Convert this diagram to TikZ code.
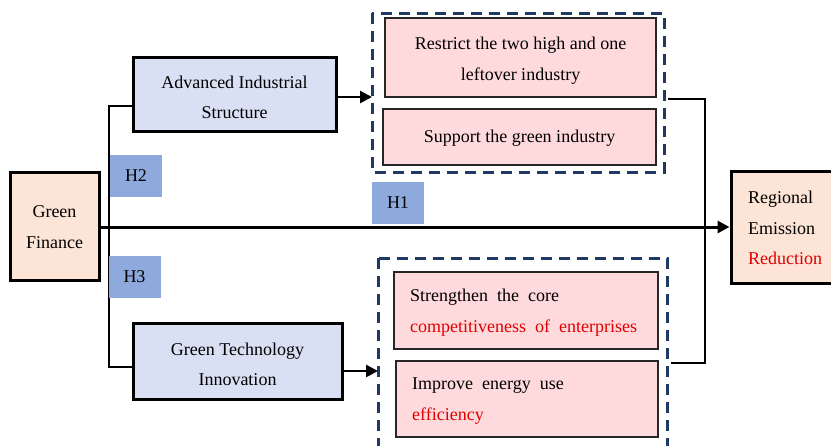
\documentclass[tikz,border=0pt]{standalone}
\usepackage{fontspec}
\setmainfont{Liberation Serif}
\usetikzlibrary{arrows.meta}
\definecolor{peach}{HTML}{FCE4D6}
\definecolor{lavender}{HTML}{DAE0F4}
\definecolor{pinkbox}{HTML}{FFDADD}
\definecolor{hblue}{HTML}{8EA9DB}
\definecolor{navy}{HTML}{203864}
\definecolor{hired}{HTML}{E00000}
\tikzset{
  mainbox/.style={draw=black, line width=3pt, inner sep=0pt, fill=#1},
  subbox/.style={draw=black!85, line width=1.5pt, fill=pinkbox, inner sep=0pt},
  groupbox/.style={draw=navy, line width=3pt, dash pattern=on 11pt off 7pt},
  hyp/.style={fill=hblue, inner sep=0pt, minimum width=52, minimum height=42, font=\fontsize{18}{20}\selectfont},
  link/.style={line width=1.6pt},
  arr/.style={line width=2.6pt, -{Triangle[length=12pt,width=12pt]}},
  txt/.style={font=\fontsize{18}{30.5}\selectfont, inner sep=0pt},
}
\begin{document}
\begin{tikzpicture}[x=1pt, y=-1pt]
\useasboundingbox (0,0) rectangle (831,445);
\clip (0,0) rectangle (831,445);

% dashed groups
\draw[groupbox] (372,13) rectangle (664,172);
\coordinate (gtopW) at (372,97);
\draw[groupbox] (378,258) rectangle (667,470);
\coordinate (gbotW) at (378,371);

% outer boxes
\node[mainbox=peach, minimum width=89, minimum height=108] (gf) at (54.5,226) {};
\node[txt, align=center] at ([yshift=-1]gf) {Green\\Finance};
\node[mainbox=lavender, minimum width=203, minimum height=74] (ais) at (234.5,94) {};
\node[txt, align=center] at ([yshift=-3.5]ais) {Advanced Industrial\\Structure};
\node[mainbox=lavender, minimum width=209, minimum height=76] (gti) at (237.5,361) {};
\node[txt, align=center] at ([yshift=-3.5]gti) {Green Technology\\Innovation};
\node[mainbox=peach, minimum width=112, minimum height=112] (rer) at (787,227) {};
\node[txt, align=left, anchor=west] at (748,228) {Regional\\Emission\\\textcolor{hired}{Reduction}};

% mechanism boxes
\node[subbox, minimum width=271, minimum height=79] (b1) at (520.5,57.5) {};
\node[txt, align=center] at ([yshift=-3]b1) {Restrict the two high and one\\leftover industry};
\node[subbox, minimum width=273, minimum height=56] (b2) at (519.5,137) {};
\node[txt] at ([yshift=-1.5]b2) {Support the green industry};
\node[subbox, minimum width=264, minimum height=77] (b3) at (526,310.5) {};
\node[txt, align=left, anchor=west] at (410,312.5) {Strengthen\ \ the\ \ core\\\textcolor{hired}{competitiveness\ \ of\ \ enterprises}};
\node[subbox, minimum width=262, minimum height=76] (b4) at (527,399) {};
\node[txt, align=left, anchor=west] at (412,401) {Improve\ \ energy\ \ use\\\textcolor{hired}{efficiency}};

% branching from green finance
\coordinate (jt) at (109,106);
\coordinate (jb) at (109,367);
\draw[link] (ais.west |- jt) -- (jt) -- (jb) -- (gti.west |- jb);

% hypothesis tags
\node[hyp] (h2) at (136,176) {H2};
\node[hyp] (h3) at (134.5,277) {H3};
\node[hyp] (h1) at (398,203) {H1};

% direct effect
\draw[line width=3pt, -{Triangle[length=12pt,width=12pt]}] (gf.east |- 0,227) -- (rer.west |- 0,227);

% mediating paths
\draw[arr] (ais.east |- gtopW) -- (gtopW);
\draw[arr] (gti.east |- gbotW) -- (gbotW);

% merging into the outcome
\coordinate (rt) at (705,99);
\coordinate (rb) at (705,363);
\draw[link] (668,99) -- (rt) -- (rb) -- (671,363);
\end{tikzpicture}
\end{document}
